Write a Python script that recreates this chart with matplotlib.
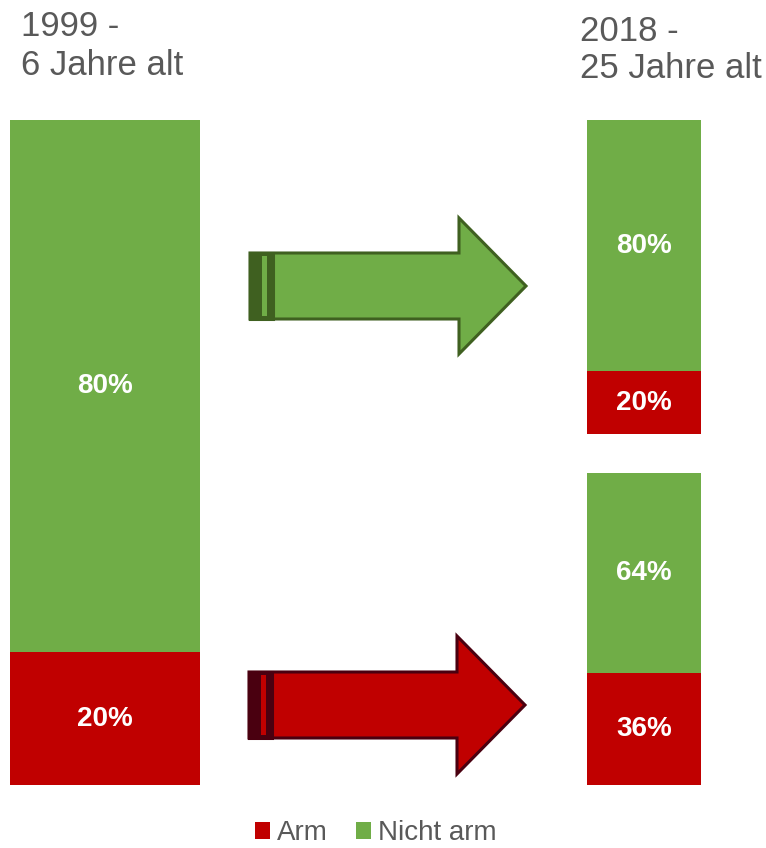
import matplotlib
import matplotlib.pyplot as plt
from matplotlib.patches import Patch, Polygon, Rectangle

matplotlib.rcParams['font.family'] = ['Liberation Sans', 'DejaVu Sans']

# data
groups = ['1999 -\n6 Jahre alt', '2018 -\n25 Jahre alt']
arm_1999 = 20
nicht_arm_1999 = 80
# 2018: upper bar = kids not poor in 1999, lower bar = kids poor in 1999
arm_2018 = [20, 36]
nicht_arm_2018 = [80, 64]
legend_labels = ['Arm', 'Nicht arm']

RED = '#C00000'
GREEN = '#70AD47'
GREY = '#595959'

W, H = 766, 848
fig = plt.figure(figsize=(W / 100, H / 100), dpi=100)


def px_axes(x0, y0, x1, y1):
    """axes from pixel box (top-left origin)"""
    return fig.add_axes([x0 / W, 1 - y1 / H, (x1 - x0) / W, (y1 - y0) / H])


def stacked_bar(ax, arm, nicht):
    ax.bar(0, arm, width=1, color=RED)
    ax.bar(0, nicht, bottom=arm, width=1, color=GREEN)
    ax.text(0, arm / 2, f'{arm}%', ha='center', va='center', color='white',
            fontsize=20, fontweight='bold')
    ax.text(0, arm + nicht / 2, f'{nicht}%', ha='center', va='center', color='white',
            fontsize=20, fontweight='bold')
    ax.set_xlim(-0.5, 0.5)
    ax.set_ylim(0, 100)
    ax.axis('off')


stacked_bar(px_axes(10, 120, 200, 785), arm_1999, nicht_arm_1999)
stacked_bar(px_axes(587, 120, 701, 434), arm_2018[0], nicht_arm_2018[0])
stacked_bar(px_axes(587, 473, 701, 785), arm_2018[1], nicht_arm_2018[1])

# arrows (decoration) in an overlay axes with pixel coords
ov = fig.add_axes([0, 0, 1, 1], zorder=-1)
ov.set_xlim(0, W)
ov.set_ylim(H, 0)
ov.axis('off')


def block_arrow(x0, yc, half_shaft, half_head, x_head, x_tip, face, edge):
    pts = [(x0, yc - half_shaft), (x_head, yc - half_shaft), (x_head, yc - half_head),
           (x_tip, yc), (x_head, yc + half_head), (x_head, yc + half_shaft),
           (x0, yc + half_shaft)]
    ov.add_patch(Polygon(pts, closed=True, facecolor=face, edgecolor=edge, lw=2.2,
                         joinstyle='miter'))
    ov.add_patch(Rectangle((x0, yc - half_shaft), 23, 2 * half_shaft, facecolor=edge,
                           edgecolor=edge, lw=2.2))
    ov.add_patch(Rectangle((x0 + 12, yc - half_shaft + 3), 5, 2 * half_shaft - 6,
                           facecolor=face, edgecolor='none'))


block_arrow(250, 286, 33, 68, 459, 526, GREEN, '#3F6020')
block_arrow(249, 705, 33, 69, 457, 525, RED, '#4A0010')

# titles
fig.text(21 / W, 1 - 10 / H, groups[0], ha='left', va='top', color=GREY,
         fontsize=25, linespacing=1.22)
fig.text(580 / W, 1 - 15 / H, groups[1], ha='left', va='top', color=GREY,
         fontsize=25, linespacing=1.15)

# legend
handles = [Patch(facecolor=RED), Patch(facecolor=GREEN)]
fig.legend(handles, legend_labels, loc='center', bbox_to_anchor=(376 / W, 1 - 833 / H),
           ncol=2, frameon=False, fontsize=20, handlelength=0.55, handleheight=0.55,
           handletextpad=0.25, columnspacing=1.0, labelcolor=GREY)

fig.savefig('out.png', dpi=100)
